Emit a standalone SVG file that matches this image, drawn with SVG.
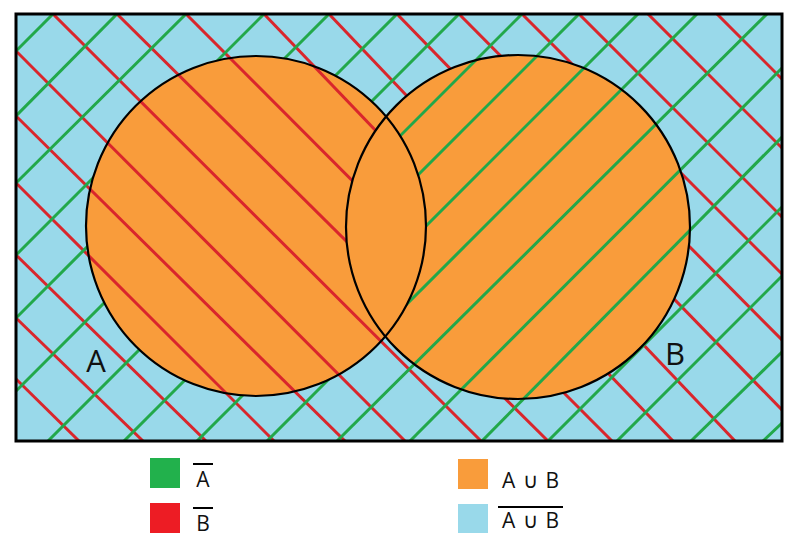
<svg xmlns="http://www.w3.org/2000/svg" width="800" height="557" viewBox="0 0 800 557">
<style>
.r{stroke:#d9262c;stroke-width:3;fill:none}
.g{stroke:#22a84a;stroke-width:3;fill:none}
.lbl{font-family:"Open Sans","DejaVu Sans",sans-serif;fill:#111}
.lg{font-family:"Open Sans","DejaVu Sans",sans-serif;fill:#111;font-size:21px}
.ov{stroke:#000;stroke-width:2}
</style>
<defs>
<clipPath id="outA"><path clip-rule="evenodd" d="M16,14H782V441H16Z M86,226a170,170 0 1,0 340,0a170,170 0 1,0 -340,0Z"/></clipPath>
<clipPath id="outB"><path clip-rule="evenodd" d="M16,14H782V441H16Z M346,227a172,172 0 1,0 344,0a172,172 0 1,0 -344,0Z"/></clipPath>
</defs>
<rect x="0" y="0" width="800" height="557" fill="#fff"/>
<g id="universe"><rect x="16" y="14" width="766" height="427" fill="#99d9ea"/></g>
<g id="setA-fill"><circle cx="256" cy="226" r="170" fill="#f99c3b"/></g>
<g id="setB-fill"><circle cx="518" cy="227" r="172" fill="#f99c3b"/></g>
<g id="hatch-notB" clip-path="url(#outB)" class="r">
<line x1="16" y1="379" x2="79" y2="441"/>
<line x1="16" y1="318" x2="143" y2="441"/>
<line x1="16" y1="255" x2="206" y2="441"/>
<line x1="16" y1="183" x2="274" y2="441"/>
<line x1="16" y1="116" x2="345" y2="441"/>
<line x1="16" y1="51" x2="405" y2="441"/>
<line x1="53" y1="14" x2="481" y2="441"/>
<line x1="117" y1="14" x2="548" y2="441"/>
<line x1="186" y1="14" x2="612" y2="441"/>
<line x1="264" y1="14" x2="673" y2="441"/>
<line x1="329" y1="14" x2="735" y2="441"/>
<line x1="397" y1="14" x2="782" y2="410"/>
<line x1="459" y1="14" x2="782" y2="340"/>
<line x1="522" y1="14" x2="782" y2="274"/>
<line x1="579" y1="14" x2="782" y2="217"/>
<line x1="648" y1="14" x2="782" y2="148"/>
<line x1="717" y1="14" x2="782" y2="79"/>
</g>
<g id="hatch-notA" clip-path="url(#outA)" class="g">
<line x1="16" y1="51" x2="53" y2="14"/>
<line x1="16" y1="116" x2="117" y2="14"/>
<line x1="16" y1="183" x2="186" y2="14"/>
<line x1="16" y1="255" x2="150.5" y2="120.5"/>
<line x1="16" y1="318" x2="182" y2="152"/>
<line x1="16" y1="391" x2="218.5" y2="188.5"/>
<line x1="48" y1="441" x2="259.5" y2="229.5"/>
<line x1="124" y1="441" x2="297.5" y2="267.5"/>
<line x1="197" y1="441" x2="334" y2="304"/>
<line x1="267" y1="441" x2="369" y2="339"/>
<line x1="264" y1="14" x2="154" y2="124"/>
<line x1="329" y1="14" x2="186.5" y2="156.5"/>
<line x1="397" y1="14" x2="220.5" y2="190.5"/>
<line x1="459" y1="14" x2="251.5" y2="221.5"/>
<line x1="522" y1="14" x2="283" y2="253"/>
<line x1="579" y1="14" x2="311.5" y2="281.5"/>
<line x1="638" y1="14" x2="341" y2="311"/>
<line x1="697" y1="14" x2="370.5" y2="340.5"/>
<line x1="767" y1="14" x2="337" y2="441"/>
<line x1="782" y1="68" x2="410" y2="441"/>
<line x1="782" y1="137" x2="482" y2="441"/>
<line x1="782" y1="207" x2="548" y2="441"/>
<line x1="782" y1="276" x2="617" y2="441"/>
<line x1="782" y1="352" x2="691" y2="441"/>
<line x1="782" y1="423" x2="763" y2="441"/>
</g>
<g id="setA"><circle cx="256" cy="226" r="170" fill="none" stroke="#000" stroke-width="2.2"/>
<text class="lbl" x="96" y="372" font-size="31" text-anchor="middle">A</text></g>
<g id="setB"><circle cx="518" cy="227" r="172" fill="none" stroke="#000" stroke-width="2.2"/>
<text class="lbl" x="675" y="365" font-size="31" text-anchor="middle">B</text></g>
<rect x="16" y="14" width="766" height="427" fill="none" stroke="#000" stroke-width="3"/>
<g id="legend-notA"><rect x="150" y="458" width="30" height="30" fill="#22b14c"/>
<text class="lg" x="203" y="487" text-anchor="middle">A</text><line class="ov" x1="193" y1="464" x2="213" y2="464"/></g>
<g id="legend-notB"><rect x="150" y="503" width="30" height="30" fill="#ed1c24"/>
<text class="lg" x="203" y="531" text-anchor="middle">B</text><line class="ov" x1="193" y1="508" x2="213" y2="508"/></g>
<g id="legend-union"><rect x="458" y="459" width="30" height="30" fill="#f99c3b"/>
<text class="lg" x="502" y="488" textLength="57" lengthAdjust="spacing">A ∪ B</text></g>
<g id="legend-notUnion"><rect x="458" y="504" width="30" height="29" fill="#99d9ea"/>
<text class="lg" x="502" y="528" textLength="57" lengthAdjust="spacing">A ∪ B</text><line class="ov" x1="498" y1="507" x2="563" y2="507"/></g>
</svg>
